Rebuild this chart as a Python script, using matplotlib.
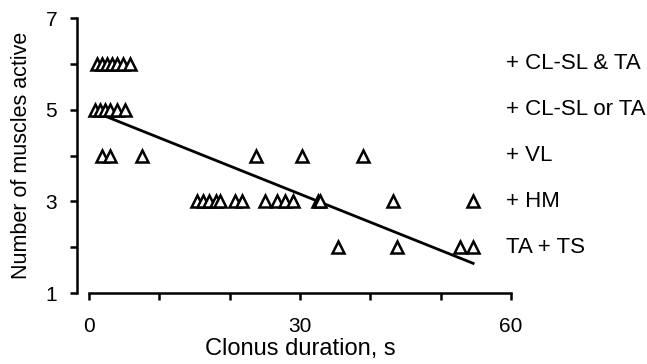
import numpy as np
import matplotlib.pyplot as plt

plt.rcParams['font.family'] = ['Liberation Sans', 'DejaVu Sans']

# clonus duration (s) and number of active muscles
duration = [1.1, 1.8, 2.5, 3.3, 4.0, 4.8, 5.8,
            0.9, 1.6, 2.3, 3.0, 4.0, 5.1,
            1.8, 3.0, 7.5, 23.8, 30.3, 39.0,
            15.4, 16.2, 17.1, 18.0, 18.6, 20.8, 21.8, 25.0, 26.7, 27.9, 29.0,
            32.6, 32.9, 43.2, 54.6,
            35.4, 43.8, 52.8, 54.6]
muscles = [6, 6, 6, 6, 6, 6, 6,
           5, 5, 5, 5, 5, 5,
           4, 4, 4, 4, 4, 4,
           3, 3, 3, 3, 3, 3, 3, 3, 3, 3, 3,
           3, 3, 3, 3,
           2, 2, 2, 2]

# regression line
fit_slope = -0.0614
fit_intercept = 5.0
fit_range = [2.0, 54.6]

row_labels = ['+ CL-SL & TA', '+ CL-SL or TA', '+ VL', '+ HM', 'TA + TS']
row_levels = [6, 5, 4, 3, 2]

fig = plt.figure(figsize=(6.47, 3.64), dpi=100)
ax = fig.add_axes([0.1376, 0.195, 0.6524, 0.7555])

ax.plot(duration, muscles, linestyle='none', marker='^', ms=8,
        mfc='white', mec='black', mew=1.8, clip_on=False, zorder=3)

fx = np.array(fit_range)
ax.plot(fx, fit_intercept + fit_slope * fx, color='black', lw=2, zorder=2)

for lab, lev in zip(row_labels, row_levels):
    ax.text(59.2, lev, lab, fontsize=16, va='center', ha='left', clip_on=False)

ax.set_xlim(0, 60)
ax.set_ylim(1, 7)
ax.set_xticks(range(0, 61, 10))
ax.set_xticklabels(['0', '', '', '30', '', '', '60'])
ax.set_yticks(range(1, 8))
ax.set_yticklabels(['1', '', '3', '', '5', '', '7'])

for s in ['top', 'right']:
    ax.spines[s].set_visible(False)
ax.spines['left'].set_position(('outward', 9))
ax.spines['left'].set_linewidth(1.8)
ax.spines['bottom'].set_linewidth(1.8)
ax.tick_params(axis='both', direction='out', length=5, width=1.8, labelsize=15)
ax.tick_params(axis='y', pad=9)
ax.tick_params(axis='x', pad=12)

ax.set_xlabel('Clonus duration, s', fontsize=17, labelpad=2)
ax.set_ylabel('Number of muscles active', fontsize=15.5, labelpad=10)

plt.savefig('out.png', dpi=100)
